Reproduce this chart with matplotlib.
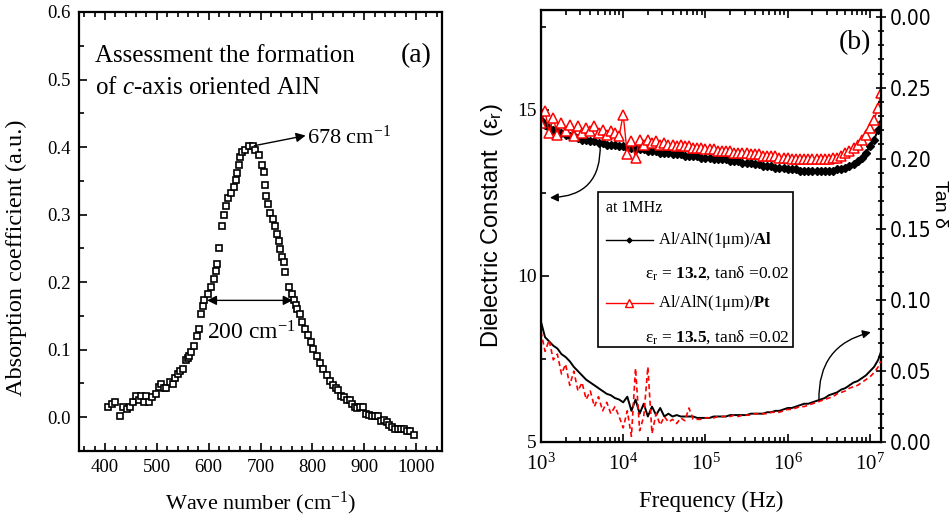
import numpy as np
import matplotlib
matplotlib.use("Agg")
import matplotlib.pyplot as plt
from matplotlib import font_manager
from matplotlib.font_manager import FontProperties
from matplotlib.ticker import MultipleLocator, FixedLocator, FixedFormatter, LogLocator, LogFormatterMathtext, NullFormatter
from matplotlib.patches import Rectangle
from matplotlib.lines import Line2D

plt.rcParams['font.family'] = ['Liberation Serif', 'DejaVu Serif']
plt.rcParams['mathtext.fontset'] = 'custom'
plt.rcParams['mathtext.rm'] = 'Liberation Serif'
plt.rcParams['mathtext.it'] = 'Liberation Serif:italic'
plt.rcParams['mathtext.bf'] = 'Liberation Serif:bold'
plt.rcParams['mathtext.sf'] = 'Liberation Sans'

# ---------------- Panel (a) data ----------------
wave_number = [406, 413, 419, 429, 435, 442, 448, 454, 460, 465, 470, 475, 480, 485, 490,
               499, 505, 508, 513, 518, 525, 531, 535, 540, 545, 550, 556, 560, 563, 566,
               572, 578, 581, 585, 589, 592, 598, 605, 611, 614, 617, 620, 625, 630, 633,
               638, 643, 648, 652, 655, 659, 661, 664, 671, 678, 685, 689, 697, 703, 706,
               708, 711, 715, 719, 724, 728, 732, 735, 738, 741, 745, 748, 754, 760, 764,
               768, 771, 776, 780, 786, 792, 798, 802, 808, 815, 821, 828, 834, 840, 845,
               850, 856, 861, 866, 872, 877, 882, 886, 891, 898, 904, 909, 914, 920, 927,
               933, 938, 943, 948, 953, 960, 966, 971, 976, 982, 989, 996]
absorption = [0.015, 0.020, 0.022, 0.002, 0.015, 0.012, 0.015, 0.022, 0.032, 0.025, 0.032, 0.022, 0.032, 0.022, 0.030,
              0.035, 0.045, 0.049, 0.044, 0.044, 0.052, 0.049, 0.058, 0.064, 0.068, 0.072, 0.084, 0.088, 0.091, 0.096,
              0.106, 0.120, 0.131, 0.153, 0.165, 0.173, 0.183, 0.193, 0.205, 0.217, 0.227, 0.251, 0.283, 0.300, 0.312,
              0.324, 0.332, 0.341, 0.351, 0.361, 0.373, 0.385, 0.393, 0.395, 0.402, 0.402, 0.395, 0.388, 0.373, 0.363,
              0.344, 0.327, 0.315, 0.302, 0.293, 0.283, 0.271, 0.261, 0.249, 0.237, 0.230, 0.215, 0.193, 0.183, 0.173,
              0.166, 0.160, 0.153, 0.141, 0.131, 0.121, 0.111, 0.101, 0.091, 0.081, 0.072, 0.062, 0.054, 0.047, 0.044,
              0.040, 0.032, 0.030, 0.025, 0.025, 0.020, 0.015, 0.013, 0.015, 0.015, 0.005, 0.003, 0.002, 0.002, 0.002,
              -0.005, -0.004, -0.007, -0.012, -0.015, -0.017, -0.017, -0.017, -0.017, -0.020, -0.020, -0.027]

# ---------------- Panel (b) data ----------------
log_freq = [3.00, 3.05, 3.10, 3.15, 3.20, 3.25, 3.30, 3.35, 3.40, 3.45,
            3.50, 3.55, 3.60, 3.65, 3.70, 3.75, 3.80, 3.85, 3.90, 3.95,
            4.00, 4.05, 4.10, 4.15, 4.20, 4.25, 4.30, 4.35, 4.40, 4.45,
            4.50, 4.55, 4.60, 4.65, 4.70, 4.75, 4.80, 4.85, 4.90, 4.95,
            5.00, 5.05, 5.10, 5.15, 5.20, 5.25, 5.30, 5.35, 5.40, 5.45,
            5.50, 5.55, 5.60, 5.65, 5.70, 5.75, 5.80, 5.85, 5.90, 5.95,
            6.00, 6.05, 6.10, 6.15, 6.20, 6.25, 6.30, 6.35, 6.40, 6.45,
            6.50, 6.55, 6.60, 6.65, 6.70, 6.75, 6.80, 6.85, 6.90, 6.95,
            7.00, 7.05, 7.10, 7.13]

eps_al = [14.70, 14.55, 14.45, 14.40, 14.35, 14.30, 14.25, 14.20, 14.20, 14.15,
          14.10, 14.10, 14.05, 14.05, 14.00, 14.00, 13.95, 13.95, 13.95, 13.90,
          13.90, 13.85, 13.85, 13.80, 13.80, 13.80, 13.75, 13.75, 13.75, 13.70,
          13.70, 13.70, 13.65, 13.65, 13.65, 13.60, 13.60, 13.60, 13.60, 13.55,
          13.55, 13.55, 13.50, 13.50, 13.50, 13.50, 13.45, 13.45, 13.45, 13.40,
          13.40, 13.40, 13.35, 13.35, 13.30, 13.30, 13.30, 13.25, 13.25, 13.25,
          13.20, 13.20, 13.20, 13.15, 13.15, 13.15, 13.15, 13.15, 13.15, 13.15,
          13.15, 13.15, 13.20, 13.20, 13.25, 13.30, 13.35, 13.45, 13.55, 13.70,
          13.90, 14.10, 14.40, 14.60]

eps_pt = [14.60, 14.95, 14.30, 14.75, 14.25, 14.60, 14.35, 14.55, 14.20, 14.50,
          14.30, 14.45, 14.35, 14.50, 14.30, 14.40, 14.25, 14.35, 14.30, 14.20,
          14.85, 13.65, 14.05, 13.55, 14.10, 13.95, 14.10, 14.00, 14.05, 13.95,
          14.00, 13.95, 13.95, 13.90, 13.95, 13.90, 13.90, 13.85, 13.85, 13.85,
          13.80, 13.80, 13.80, 13.75, 13.75, 13.75, 13.75, 13.70, 13.70, 13.70,
          13.70, 13.65, 13.65, 13.65, 13.60, 13.60, 13.60, 13.60, 13.55, 13.55,
          13.55, 13.50, 13.50, 13.50, 13.50, 13.50, 13.50, 13.50, 13.50, 13.50,
          13.50, 13.55, 13.55, 13.60, 13.70, 13.75, 13.85, 13.95, 14.10, 14.25,
          14.45, 14.70, 15.05, 15.50]

tan_al = [0.085, 0.074, 0.071, 0.068, 0.066, 0.062, 0.060, 0.057, 0.053, 0.050,
          0.047, 0.044, 0.042, 0.040, 0.038, 0.036, 0.034, 0.033, 0.031, 0.030,
          0.028, 0.032, 0.022, 0.030, 0.020, 0.027, 0.018, 0.025, 0.019, 0.024,
          0.018, 0.020, 0.018, 0.019, 0.018, 0.018, 0.018, 0.018, 0.017, 0.017,
          0.017, 0.017, 0.018, 0.018, 0.018, 0.018, 0.019, 0.019, 0.019, 0.019,
          0.019, 0.020, 0.020, 0.020, 0.020, 0.021, 0.021, 0.022, 0.022, 0.023,
          0.024, 0.024, 0.025, 0.026, 0.027, 0.027, 0.028, 0.029, 0.030, 0.031,
          0.033, 0.034, 0.035, 0.037, 0.038, 0.040, 0.042, 0.043, 0.045, 0.047,
          0.050, 0.053, 0.058, 0.063]

tan_pt = [0.078, 0.064, 0.072, 0.058, 0.062, 0.048, 0.055, 0.040, 0.050, 0.036,
          0.042, 0.030, 0.036, 0.025, 0.032, 0.022, 0.028, 0.020, 0.025, 0.018,
          0.010, 0.022, 0.004, 0.052, 0.008, 0.018, 0.053, 0.006, 0.020, 0.012,
          0.018, 0.014, 0.016, 0.013, 0.017, 0.015, 0.024, 0.016, 0.016, 0.016,
          0.017, 0.017, 0.017, 0.018, 0.018, 0.018, 0.018, 0.019, 0.018, 0.019,
          0.019, 0.019, 0.020, 0.020, 0.020, 0.020, 0.021, 0.021, 0.021, 0.022,
          0.023, 0.023, 0.024, 0.025, 0.025, 0.026, 0.027, 0.028, 0.029, 0.030,
          0.031, 0.032, 0.034, 0.035, 0.036, 0.038, 0.039, 0.040, 0.042, 0.044,
          0.046, 0.049, 0.053, 0.057]

tan_ticks = [0.00, 0.05, 0.10, 0.15, 0.20, 0.25, 0.30]
tan_tick_labels = ['0.00', '0.05', '0.10', '0.15', '0.20', '0.25', '0.00']

freq = [10 ** v for v in log_freq]

# narrow sans for the right-axis tick labels, if any narrow/condensed sans font is installed
narrow_fp = None
for f in font_manager.fontManager.ttflist:
    fn = f.fname.lower()
    if ('narrow' in fn or 'condensed' in fn) and 'sans' in fn and 'bold' not in fn \
            and 'oblique' not in fn and 'italic' not in fn:
        narrow_fp = FontProperties(fname=f.fname, size=15)
        break
if narrow_fp is None:
    narrow_fp = FontProperties(family=['Liberation Sans', 'DejaVu Sans'], size=12)

fig = plt.figure(figsize=(9.49, 5.2), dpi=100)

# ---------------- Panel (a) ----------------
ax1 = fig.add_axes([0.0832, 0.1327, 0.3826, 0.8443])
ax1.plot(wave_number, absorption, linestyle='none', marker='s', markersize=5,
         markerfacecolor='white', markeredgecolor='black', markeredgewidth=1.2)
ax1.set_xlim(350, 1050)
ax1.set_ylim(-0.05, 0.6)
ax1.xaxis.set_major_locator(MultipleLocator(100))
ax1.xaxis.set_minor_locator(MultipleLocator(20))
ax1.yaxis.set_major_locator(MultipleLocator(0.1))
ax1.yaxis.set_minor_locator(MultipleLocator(0.05))
ax1.yaxis.set_major_formatter(matplotlib.ticker.FormatStrFormatter('%.1f'))
ax1.tick_params(which='both', direction='in', top=True, right=False, labelsize=13.5, width=1.2)
ax1.tick_params(which='major', length=6, pad=6)
ax1.tick_params(which='minor', length=3.5)
for s in ax1.spines.values():
    s.set_linewidth(1.6)
ax1.set_xlabel('Wave number (cm$^{-1}$)', fontsize=16, labelpad=10)
ax1.set_ylabel('Absorption coefficient (a.u.)', fontsize=17.5, va='center')
ax1.yaxis.set_label_coords((16 - 79) / 363.0, 0.44)
ax1.text(0.045, 0.9, 'Assessment the formation', transform=ax1.transAxes, fontsize=18, va='center')
ax1.text(0.045, 0.826, 'of $\\it{c}$-axis oriented AlN', transform=ax1.transAxes, fontsize=18, va='center')
ax1.text(0.97, 0.9, '(a)', transform=ax1.transAxes, fontsize=20, ha='right', va='center')
ax1.annotate('', xy=(787, 0.417), xytext=(688, 0.402),
             arrowprops=dict(arrowstyle='-|>', color='black', lw=1.0, mutation_scale=14, shrinkA=0, shrinkB=0))
ax1.text(790, 0.415, '678 cm$^{-1}$', fontsize=16, va='center')
ax1.annotate('', xy=(597, 0.173), xytext=(762, 0.173),
             arrowprops=dict(arrowstyle='<|-|>', color='black', lw=1.0, mutation_scale=14, shrinkA=0, shrinkB=0))
ax1.text(683, 0.125, '200 cm$^{-1}$', fontsize=17, ha='center', va='center')

# ---------------- Panel (b) ----------------
ax2 = fig.add_axes([0.570, 0.15, 0.3583, 0.831])
ax3 = ax2.twinx()
ax2.plot(freq, eps_al, color='black', lw=1.5, marker='D', markersize=4.5,
         markerfacecolor='black', markeredgecolor='black')
ax2.plot(freq, eps_pt, color='red', lw=1.0, marker='^', markersize=7,
         markerfacecolor='white', markeredgecolor='red', markeredgewidth=1.1)
ax2.set_xscale('log')
ax2.set_xlim(1e3, 1.36e7)
ax2.set_ylim(5, 18)
ax2.yaxis.set_major_locator(FixedLocator([5, 10, 15]))
ax2.yaxis.set_minor_locator(MultipleLocator(2.5))
ax2.xaxis.set_major_locator(LogLocator(base=10, numticks=10))
ax2.xaxis.set_minor_locator(LogLocator(base=10, subs=np.arange(2, 10), numticks=20))
ax2.xaxis.set_major_formatter(LogFormatterMathtext())
ax2.xaxis.set_minor_formatter(NullFormatter())
ax2.tick_params(which='both', direction='in', top=True, right=False, width=1.2)
ax2.tick_params(axis='x', which='major', length=6, labelsize=15, pad=8)
ax2.tick_params(axis='x', which='minor', length=3.5)
ax2.tick_params(axis='y', which='major', length=6, labelsize=14, pad=3)
ax2.tick_params(axis='y', which='minor', length=3.5)
for s in ax2.spines.values():
    s.set_linewidth(1.6)
ax2.set_xlabel('Frequency (Hz)', fontsize=16.5, labelpad=12)
ax2.set_ylabel('Dielectric Constant  (ε$_\\mathsf{r}$)', fontsize=17,
               family=['Liberation Sans', 'DejaVu Sans'], labelpad=9)

ax3.plot(freq, tan_al, color='black', lw=1.4)
ax3.plot(freq, tan_pt, color='red', lw=1.2, linestyle=(0, (3, 2)))
ax3.set_ylim(0, 0.305)
ax3.yaxis.set_major_locator(FixedLocator(tan_ticks))
ax3.yaxis.set_major_formatter(FixedFormatter(tan_tick_labels))
ax3.yaxis.set_minor_locator(MultipleLocator(0.01))
ax3.tick_params(which='both', direction='inout', width=1.2)
ax3.tick_params(which='major', length=7, pad=3)
ax3.tick_params(which='minor', length=4)
for lab in ax3.get_yticklabels():
    lab.set_fontproperties(narrow_fp)
ax3.set_ylabel('Tan δ', fontsize=14, family=['Liberation Sans', 'DejaVu Sans'],
               rotation=270, va='center', ha='center')
ax3.yaxis.set_label_coords((940 - 541) / 340.0, 0.55)

# curved arrows
ax2.annotate('', xy=(10 ** 3.11, 12.35), xytext=(10 ** 3.72, 13.95),
             arrowprops=dict(arrowstyle='-|>', color='black', lw=1.0, mutation_scale=12,
                             connectionstyle='arc3,rad=-0.5', shrinkA=0, shrinkB=0))
ax3.annotate('', xy=(10 ** 7.01, 0.0775), xytext=(10 ** 6.38, 0.0296),
             arrowprops=dict(arrowstyle='-|>', color='black', lw=1.0, mutation_scale=12,
                             connectionstyle='arc3,rad=-0.4', shrinkA=0, shrinkB=0))
ax3.text(0.97, 0.925, '(b)', transform=ax3.transAxes, fontsize=20, ha='right', va='center')

# custom legend box
ax3.add_patch(Rectangle((0.168, 0.22), 0.573, 0.359, transform=ax3.transAxes,
                        facecolor='white', edgecolor='black', lw=1.2, zorder=5))
ax3.text(0.19, 0.542, 'at 1MHz', transform=ax3.transAxes, fontsize=11.5, va='center', zorder=6)
ax3.add_line(Line2D([0.19, 0.26, 0.33], [0.468, 0.468, 0.468], transform=ax3.transAxes, color='black', lw=1.0,
                    marker='D', markersize=2.5, markevery=[1], zorder=6))
ax3.text(0.345, 0.468, 'Al/AlN(1μm)/$\\mathbf{Al}$', transform=ax3.transAxes, fontsize=12,
         va='center', zorder=6)
ax3.text(0.305, 0.391, 'ε$_{\\rm r}$ = $\\mathbf{13.2}$, tanδ =0.02', transform=ax3.transAxes,
         fontsize=12.5, va='center', zorder=6)
ax3.add_line(Line2D([0.19, 0.26, 0.33], [0.322, 0.322, 0.322], transform=ax3.transAxes, color='red', lw=1.0,
                    marker='^', markersize=5.5, markerfacecolor='white', markeredgecolor='red',
                    markevery=[1], zorder=6))
ax3.text(0.345, 0.322, 'Al/AlN(1μm)/$\\mathbf{Pt}$', transform=ax3.transAxes, fontsize=12,
         va='center', zorder=6)
ax3.text(0.305, 0.243, 'ε$_{\\rm r}$ = $\\mathbf{13.5}$, tanδ =0.02', transform=ax3.transAxes,
         fontsize=12.5, va='center', zorder=6)

fig.savefig('out.png', dpi=100)
